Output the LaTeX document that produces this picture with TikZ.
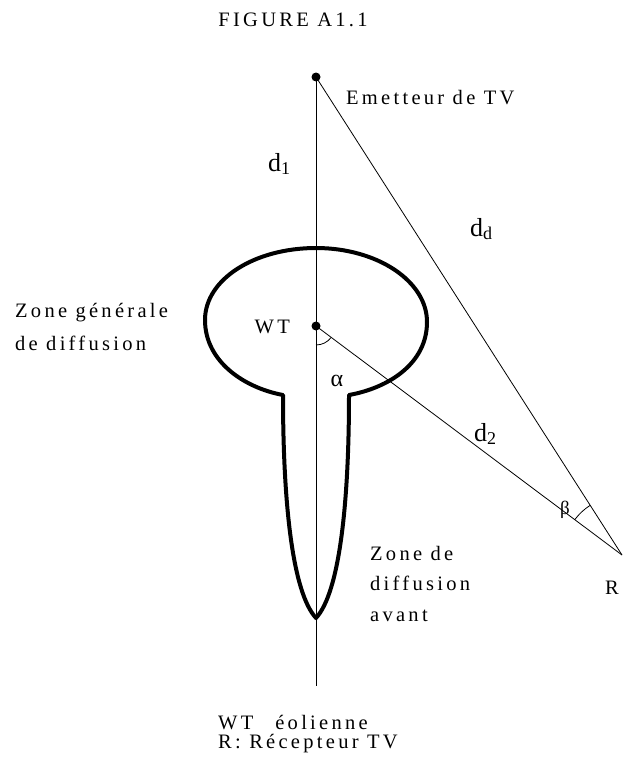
\documentclass[tikz,border=0pt]{standalone}
\usepackage{fontspec}
\setmainfont{Liberation Serif}
\newfontfamily\spaced[LetterSpace=16]{Liberation Serif}
\begin{document}
\begin{tikzpicture}[x=1pt,y=-1pt,
  thinline/.style={line width=0.8pt},
  lobe/.style={line width=4pt, line join=round},
  dot/.style={circle, fill=black, inner sep=0pt, minimum size=9pt},
  txt/.style={font=\fontsize{20.5}{33}\selectfont\spaced, inner sep=0pt, align=left},
  dlab/.style={font=\fontsize{26}{26}\selectfont, inner sep=0pt, anchor=base west},
  greek/.style={font=\fontsize{24}{24}\selectfont, inner sep=0pt}]
\useasboundingbox (0,0) rectangle (624,771);

% points
\node[dot] (T) at (316,77) {};
\node[dot] (WT) at (316,326) {};
\coordinate (R) at (622,555);
\coordinate (B) at (316,686);

% connectors
\draw[thinline] (T.center) -- (B);
\draw[thinline] (T.center) -- (R);
\draw[thinline] (WT.center) -- (R);

% angle arcs
\draw[thinline] ([shift={(90:19)}]WT.center) arc[start angle=90, end angle=36.8, radius=19];
\draw[thinline] ([shift={(216.8:59)}]R) arc[start angle=216.8, end angle=237.4, radius=59];

% lobe
\draw[lobe] (283,395)
  .. controls (245,388) and (205,362) .. (205,320)
  .. controls (205,279) and (255,248) .. (316,248)
  .. controls (377,248) and (427,281) .. (427,322)
  .. controls (427,364) and (388,388) .. (349,395)
  .. controls (349,500) and (340,592) .. (316,618)
  .. controls (292,592) and (283,500) .. (283,395) -- cycle;

% texts
\node[txt, anchor=base] (title) at (293,27) {FIGURE A1.1};
\node[txt, anchor=base west] (emit) at (346,104) {Emetteur de TV};
\node[dlab] (d1) at (268,171) {d\raisebox{-3pt}{\fontsize{18}{18}\selectfont 1}};
\node[dlab] (dd) at (470,236) {d\raisebox{-3pt}{\fontsize{18}{18}\selectfont d}};
\node[dlab] (d2) at (474,441) {d\raisebox{-3pt}{\fontsize{18}{18}\selectfont 2}};
\node[txt, anchor=north west] (zg) at (15,303) {Zone générale\\de diffusion};
\node[txt, anchor=base east] (wtl) at (290,333) {WT};
\node[greek] (alpha) at (337,381) {α};
\node[greek, font=\fontsize{19}{19}\selectfont] (beta) at (565,510) {β};
\node[txt] (rl) at (612,588) {R};
\node[txt, anchor=north west, font=\fontsize{20.5}{30.5}\selectfont\spaced] (zd) at (370,546) {Zone de\\diffusion\\avant};
\node[txt, anchor=north west, font=\fontsize{20.5}{19}\selectfont\spaced] (leg) at (218,715) {WT\hspace{22pt}éolienne\\R: Récepteur TV};
\end{tikzpicture}
\end{document}
